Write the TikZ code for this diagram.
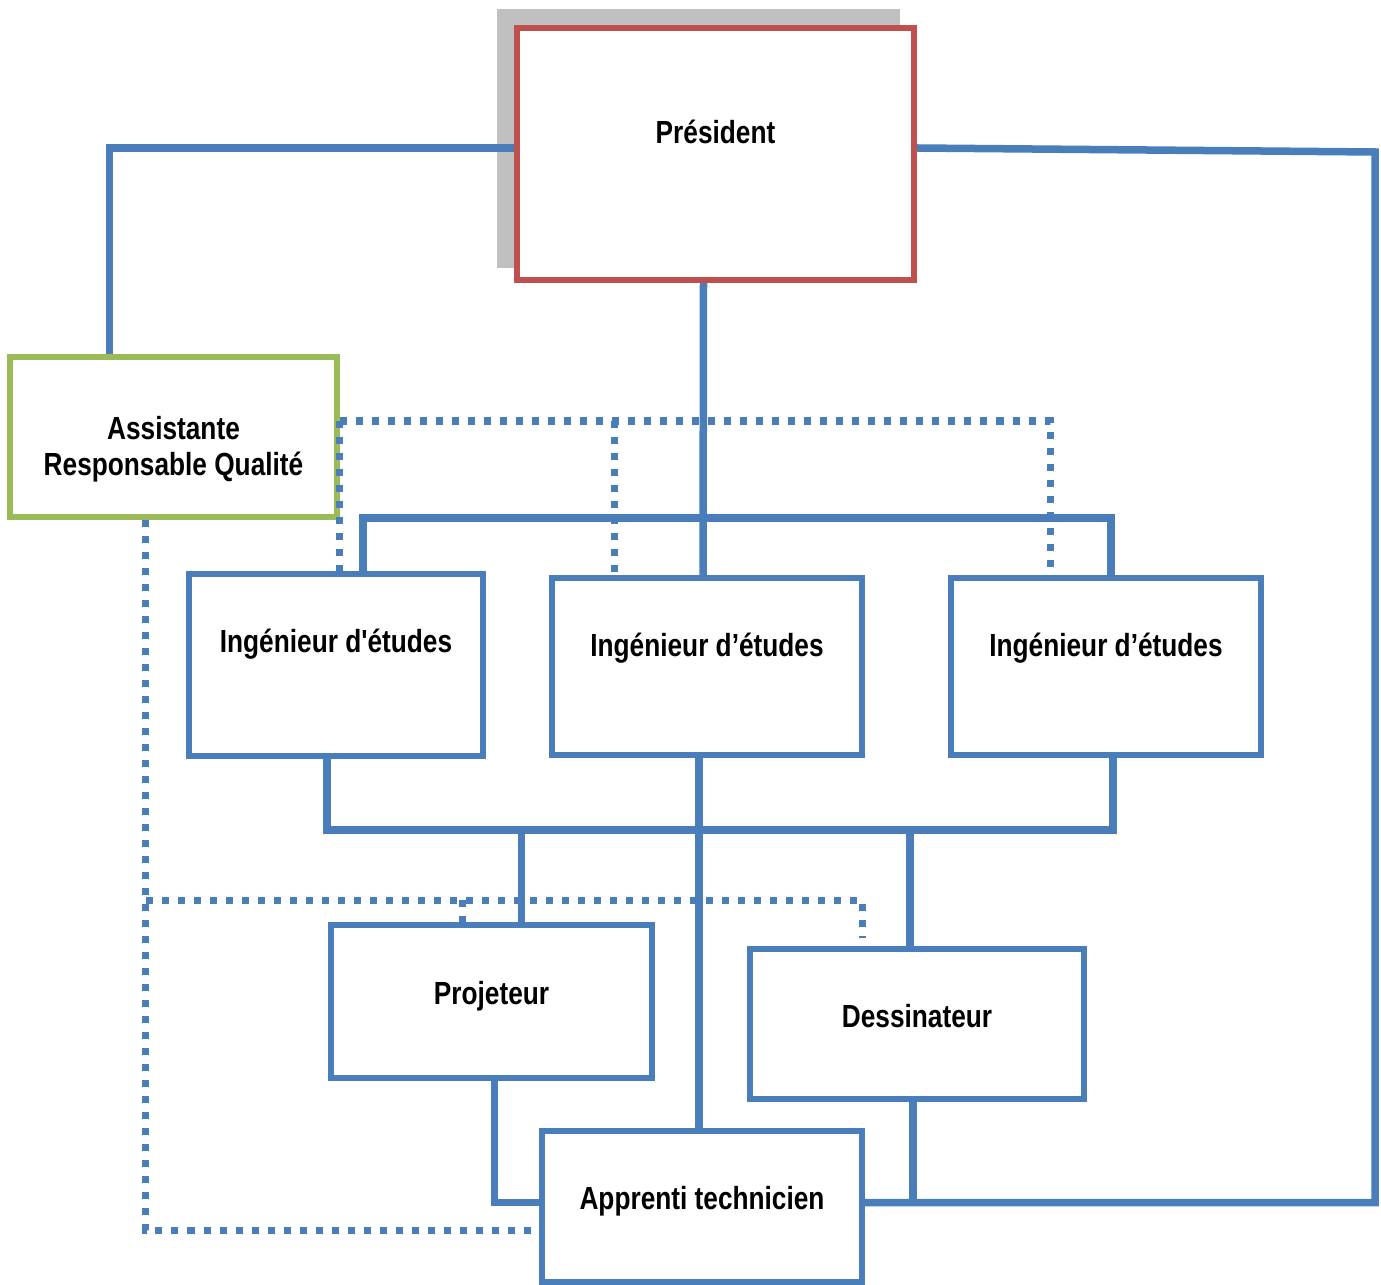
\documentclass[tikz,border=0pt]{standalone}
\usepackage{fontspec}
\setmainfont{Liberation Sans}[FakeStretch=0.82,Ligatures=TeXOff]
\usetikzlibrary{calc}

\definecolor{orgblue}{HTML}{4A7EBB}
\definecolor{orgred}{HTML}{C0504D}
\definecolor{orggreen}{HTML}{9BBB59}
\definecolor{orggray}{HTML}{C0C0C0}

\tikzset{
  poste/.style={draw=orgblue,fill=white,line width=0.06cm,rectangle,inner sep=0pt,
    font=\fontsize{9.1}{10.2}\selectfont\bfseries,align=center},
  haut/.style={text height=0.3cm,text depth=#1},
  link/.style={draw=orgblue,line width=0.075cm},
  dots/.style={draw=orgblue,line width=0.07cm,dash pattern=on 0.07cm off 0.09cm}
}

\begin{document}
\begin{tikzpicture}[x=0.01cm,y=-0.01cm]
          \useasboundingbox (0,0) rectangle (1381,1285);
          % ombre du president
          \fill[orggray] (497,9) rectangle (900,268);
          \node[poste,draw=orgred,haut=0.5cm,minimum width=3.97cm,minimum height=2.52cm] (pres) at (715.5,154) {Président};
          \node[poste,draw=orggreen,minimum width=3.27cm,minimum height=1.6cm] (assist) at (173.5,437) {\rule{0pt}{0.47cm}Assistante\\Responsable Qualité};
          \node[poste,haut=0.54cm,minimum width=2.94cm,minimum height=1.82cm] (ing1) at (336,665) {Ingénieur d'études};
          \node[poste,haut=0.49cm,minimum width=3.1cm,minimum height=1.77cm] (ing2) at (707,666.5) {Ingénieur d’études};
          \node[poste,haut=0.49cm,minimum width=3.1cm,minimum height=1.77cm] (ing3) at (1106,666.5) {Ingénieur d’études};
          \node[poste,haut=0.25cm,minimum width=3.21cm,minimum height=1.53cm] (proj) at (491.5,1001.5) {Projeteur};
          \node[poste,haut=0.24cm,minimum width=3.34cm,minimum height=1.5cm] (dess) at (917,1024) {Dessinateur};
          \node[poste,haut=0.25cm,minimum width=3.2cm,minimum height=1.51cm] (appr) at (702,1206.5) {Apprenti technicien};
          % liaisons hierarchiques
          \coordinate (topbus) at (703,518);
          \coordinate (lowbus) at (700,830);
          \coordinate (rc) at (1375,152);
          \draw[link] ([yshift=0.06cm]pres.west) -| ($(assist.north)+(-64,0)$);
          \draw[link] ([yshift=0.06cm]pres.east) -- (rc) |- ($(appr.east)+(0,-4)$);
          \draw[link] ($(pres.south)+(-12,0)$) -- ($(ing2.north)+(-4,0)$);
          \draw[link] ($(ing1.north)+(27,0)$) |- (topbus) -| ($(ing3.north)+(5,0)$);
          \draw[link] ($(ing1.south)+(-9,0)$) |- (lowbus) -| ($(ing3.south)+(7,0)$);
          \draw[link] ($(ing2.south)+(-8,0)$) -- ($(appr.north)+(-3,0)$);
          \draw[link] ($(proj.north)+(30,0)$) |- (lowbus);
          \draw[link] ($(dess.north)+(-7,0)$) |- (lowbus);
          \draw[link] ($(proj.south)+(3,0)$) |- ($(appr.west)+(0,-4)$);
          \draw[link] ($(dess.south)+(-4,0)$) |- ($(appr.east)+(0,-4)$);
          % liaisons qualite
          \coordinate (qa) at ($(assist.east)+(0,-16)$);
          \coordinate (d1) at ($(ing1.north)+(3,0)$);
          \coordinate (d2) at ($(ing2.north)+(-93,0)$);
          \coordinate (d3) at ($(ing3.north)+(-56,0)$);
          \draw[dots] (qa) -| (d3);
          \draw[dots] (qa -| d1) -- (d1);
          \draw[dots] (qa -| d2) -- (d2);
          \coordinate (qb) at ($(assist.south)+(-28,0)$);
          \coordinate (qh) at ($(qb)+(0,380)$);
          \coordinate (p1) at ($(proj.north)+(-29,0)$);
          \coordinate (p2) at ($(dess.north)+(-55,-8)$);
          \draw[dots] (qb) |- ($(appr.west)+(0,24)$);
          \draw[dots] (qh) -| (p2);
          \draw[dots] (qh -| p1) -- (p1);
        \end{tikzpicture}
\end{document}
